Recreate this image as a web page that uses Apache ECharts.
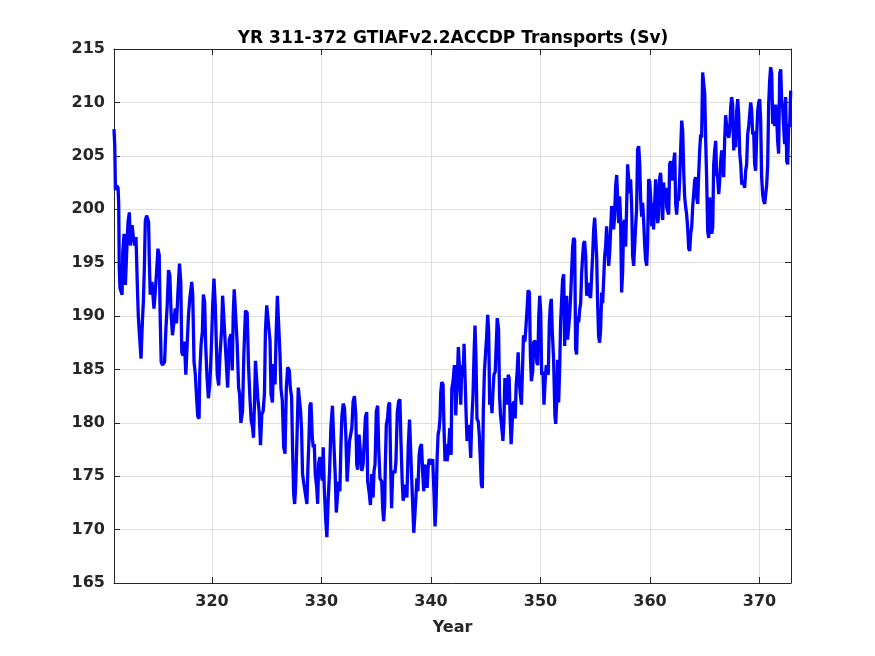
<!DOCTYPE html>
<html lang="en">
<head>
    <meta charset="UTF-8">
    <title>YR 311-372 GTIAFv2.2ACCDP Transports</title>
    <script src="https://cdn.jsdelivr.net/npm/echarts@6.0.0/dist/echarts.min.js"></script>
    <style>
        html, body {
            margin: 0;
            padding: 0;
            background: #ffffff;
        }
        #main {
            width: 875px;
            height: 656px;
        }
    </style>
</head>
<body>
<div id="main"></div>
<script type="text/javascript">
    // transport (Sv) against model year
    var samples = [
        [311.05,207.5],[311.12,205.9],[311.18,201.8],[311.3,202.2],[311.42,202.0],[311.48,200.5],[311.53,194.5],[311.6,192.6],[311.79,192.0],[311.85,196.0],
        [311.97,197.7],[312.09,192.9],[312.21,196.0],[312.33,198.8],[312.45,199.7],[312.55,196.6],[312.7,198.5],[312.82,197.4],[312.94,196.6],[313.06,197.4],
        [313.18,192.9],[313.27,190.0],[313.36,188.5],[313.52,186.0],[313.64,189.4],[313.73,191.3],[313.82,194.4],[313.91,198.9],[314.03,199.4],[314.21,198.8],
        [314.27,195.4],[314.36,192.0],[314.52,193.2],[314.7,190.7],[314.82,192.3],[314.94,194.1],[315.06,196.3],[315.18,195.7],[315.27,189.8],[315.36,185.7],
        [315.48,185.4],[315.67,185.7],[315.79,188.8],[315.91,191.0],[316.03,194.3],[316.15,193.8],[316.27,190.1],[316.39,188.2],[316.52,189.4],[316.64,190.7],
        [316.76,189.3],[316.88,192.0],[317.03,194.9],[317.15,193.2],[317.24,186.6],[317.36,186.3],[317.48,187.6],[317.61,184.5],[317.73,187.3],[317.85,190.0],
        [317.97,191.6],[318.15,193.2],[318.24,192.0],[318.36,185.7],[318.48,184.5],[318.58,182.6],[318.7,180.6],[318.82,180.4],[318.88,184.5],[319.0,187.3],
        [319.12,188.5],[319.21,192.0],[319.33,191.3],[319.42,187.3],[319.55,184.2],[319.67,182.3],[319.79,183.5],[319.88,185.4],[319.97,187.9],[320.06,191.0],
        [320.18,193.5],[320.3,191.0],[320.39,187.6],[320.48,184.5],[320.61,183.5],[320.73,186.3],[320.88,188.8],
        [320.97,191.9],[321.15,192.0],[321.43,183.3],[321.58,187.8],[321.73,188.3],[321.85,184.9],[321.94,190.2],[322.03,192.5],[322.18,192.4],[322.3,187.4],
        [322.43,183.3],[322.52,182.7],[322.64,180.0],[322.79,181.1],[322.91,186.4],[322.97,188.1],[323.06,190.5],[323.21,190.3],[323.33,185.5],[323.46,182.4],
        [323.58,180.2],[323.7,179.6],[323.79,178.6],[323.88,181.8],[323.97,185.8],[324.09,185.8],[324.18,182.4],[324.3,181.1],[324.43,177.9],[324.55,180.8],
        [324.67,181.1],[324.79,182.7],[324.88,188.6],[325.0,191.0],[325.15,191.1],[325.3,187.7],[325.39,182.7],[325.52,181.9],[325.61,185.5],[325.76,183.6],
        [325.85,188.0],[325.97,191.9],[326.12,192.0],[326.21,186.4],[326.3,183.2],[326.42,182.1],[326.55,177.7],[326.67,177.1],[326.79,183.3],[326.91,185.2],
        [327.06,184.9],[327.15,183.3],[327.27,182.4],[327.36,177.4],[327.46,173.3],[327.55,172.4],[327.64,174.0],[327.76,178.6],[327.88,183.3],[327.97,183.3],
        [328.09,181.1],[328.18,179.3],[328.27,175.2],[328.39,174.3],[328.55,174.3],[328.67,172.4],[328.76,175.8],[328.85,178.3],[328.94,181.6],[329.04,181.9],
        [329.16,178.6],[329.25,177.7],[329.34,178.0],[329.43,175.2],[329.56,174.0],[329.65,172.4],[329.74,176.2],[329.86,176.8],[329.95,175.5],[330.07,174.6],
        [330.16,177.7],[330.25,174.0],[330.37,171.2],[330.49,169.3],[330.62,173.0],[330.74,175.5],[330.86,179.6],
        [331.0,181.6],[331.1,178.8],[331.25,175.2],[331.35,171.6],[331.47,171.6],[331.56,174.5],[331.68,173.6],[331.77,177.7],[331.86,180.6],[331.98,181.8],
        [332.1,181.4],[332.22,178.9],[332.34,174.5],[332.46,174.4],[332.56,178.3],[332.68,178.3],[332.77,179.5],[332.89,182.0],[333.01,182.5],[333.13,180.8],
        [333.22,176.1],[333.31,175.6],[333.43,178.9],[333.56,178.9],[333.68,175.5],[333.8,176.1],[333.92,178.6],[334.01,180.5],[334.13,181.0],[334.22,174.5],
        [334.34,173.6],[334.47,172.3],[334.59,175.2],[334.71,173.0],[334.8,175.5],[334.89,176.1],[335.01,181.1],[335.13,181.6],[335.22,177.7],[335.34,174.8],
        [335.5,174.5],[335.59,172.0],[335.68,170.8],[335.77,172.3],[335.83,176.1],[335.92,179.8],[336.04,180.5],[336.13,181.7],[336.22,181.9],[336.31,176.4],
        [336.4,172.0],[336.5,175.2],[336.59,175.5],[336.71,175.3],[336.8,176.4],[336.92,180.9],[337.04,182.0],[337.16,182.2],[337.25,178.6],[337.37,174.5],
        [337.46,172.7],[337.59,172.7],[337.68,174.2],[337.8,173.0],[337.92,177.7],[338.04,180.3],[338.16,180.3],[338.25,174.5],[338.34,172.0],[338.43,169.7],
        [338.53,169.8],[338.62,173.0],[338.71,174.8],[338.8,173.6],[338.92,177.0],[339.01,177.7],[339.13,178.0],[339.25,175.2],[339.34,173.6],[339.43,176.1],
        [339.53,176.2],[339.65,173.9],[339.74,175.8],[339.83,176.6],[339.95,176.4],[340.04,176.1],[340.16,176.6],[340.28,173.3],[340.37,170.3],[340.46,172.2],
        [340.56,176.7],[340.65,178.9],[340.74,179.4],[340.83,180.5],[340.89,182.8],[340.98,183.8],[341.1,183.6],[341.19,179.5],[341.28,176.4],
        [341.35,178.0],[341.47,176.4],[341.6,177.6],[341.72,179.5],[341.84,177.0],[341.9,183.2],[342.02,183.9],[342.14,185.4],[342.26,180.7],[342.38,183.5],
        [342.5,187.1],[342.59,185.4],[342.72,181.7],[342.81,185.4],[342.93,184.2],[343.02,187.4],[343.11,187.3],[343.2,181.1],[343.29,178.3],[343.42,179.8],
        [343.54,178.6],[343.63,176.7],[343.72,180.1],[343.84,182.6],[343.93,186.3],[344.02,189.1],[344.11,186.0],[344.2,180.4],[344.32,180.1],[344.41,178.9],
        [344.51,176.4],[344.6,174.2],[344.69,173.9],[344.78,181.1],[344.88,184.8],[345.0,184.8],[345.09,188.2],[345.18,190.1],[345.27,188.5],[345.36,181.7],
        [345.48,182.6],[345.57,180.9],[345.66,182.9],[345.75,184.5],[345.87,184.8],[345.96,184.8],[346.05,189.8],[346.17,188.8],[346.26,182.6],[346.35,180.7],
        [346.47,179.5],[346.57,178.3],[346.66,180.1],[346.75,184.2],[346.87,183.5],[346.96,181.7],[347.05,184.5],[347.14,184.2],[347.23,180.4],[347.32,178.0],
        [347.41,179.8],[347.5,181.8],[347.6,182.0],[347.69,180.4],[347.78,183.5],[347.87,184.8],[347.96,186.6],[348.05,183.9],[348.14,182.9],[348.26,181.7],
        [348.35,184.8],[348.45,188.2],[348.57,187.6],[348.66,188.8],[348.78,190.7],[348.87,192.4],[348.99,192.2],[349.08,186.3],[349.17,183.9],[349.29,184.8],
        [349.38,187.6],[349.47,187.6],[349.57,187.6],[349.66,185.7],[349.75,185.4],[349.84,189.8],[349.93,191.9],[350.02,190.4],[350.11,184.5],[350.23,184.8],
        [350.32,181.7],[350.44,184.2],[350.53,185.4],[350.62,184.8],[350.71,184.5],[350.81,189.4],[350.9,191.0],[350.99,191.6],[351.08,188.5],[351.2,185.9],
        [351.32,180.6],[351.39,179.9],[351.48,181.9],[351.57,185.9],[351.66,181.9],[351.75,185.0],[351.84,189.4],[351.93,191.5],[352.02,193.4],[352.12,193.9],
        [352.21,187.2],[352.3,190.0],[352.39,191.9],[352.48,187.8],[352.57,187.8],[352.66,190.0],[352.76,191.9],[352.85,194.3],[352.94,196.5],[353.03,197.3],
        [353.12,197.1],[353.21,186.9],[353.3,186.4],[353.39,190.0],[353.49,189.4],[353.58,190.6],[353.67,191.2],[353.76,194.0],[353.85,195.6],[353.94,196.8],
        [354.03,197.0],[354.13,195.6],[354.22,191.9],[354.31,192.5],[354.4,193.1],[354.49,191.9],[354.58,191.7],[354.67,193.7],[354.76,195.6],[354.86,198.1],
        [354.95,199.2],[355.04,199.3],[355.13,195.6],[355.22,191.2],[355.31,188.1],[355.4,187.5],[355.49,188.7],[355.59,192.2],[355.68,191.2],[355.77,193.4],
        [355.86,195.6],[355.95,196.5],[356.04,198.4],[356.13,196.5],[356.23,194.7],[356.32,195.9],[356.41,198.1],[356.5,200.3],[356.59,199.6],[356.68,198.1],
        [356.77,199.3],[356.86,202.1],[356.96,203.2],[357.05,203.1],[357.14,198.7],[357.23,201.2],[357.32,199.0],[357.41,192.2],[357.5,194.0],[357.6,198.7],
        [357.69,199.0],[357.78,196.5],[357.87,200.3],[357.96,204.2],[358.05,204.3],[358.14,201.5],[358.23,202.8],[358.33,200.3],[358.42,195.6],[358.51,194.7],
        [358.6,196.5],[358.69,198.4],[358.78,200.0],[358.87,205.6],[358.97,205.9],[359.06,204.3],[359.15,200.9],[359.24,199.3],[359.33,200.6],[359.42,199.0],
        [359.51,196.8],[359.6,195.3],[359.7,194.7],[359.79,197.1],[359.88,202.8],[359.97,202.6],[360.06,201.2],[360.15,198.4],[360.24,200.6],[360.33,198.1],
        [360.43,200.6],[360.52,202.8],[360.61,201.2],[360.7,198.7],[360.79,199.3],[360.88,202.9],[360.97,203.4],[361.07,201.8],[361.16,199.0],[361.25,202.5],
        [361.34,201.0],[361.44,202.0],[361.53,200.2],[361.62,199.8],[361.71,199.5],[361.8,204.2],[361.89,204.5],[361.98,202.7],[362.07,203.0],[362.17,204.5],
        [362.26,205.3],[362.35,200.5],[362.44,199.5],[362.53,201.1],[362.62,200.8],[362.71,202.7],[362.81,205.8],[362.9,208.3],[362.99,207.3],[363.08,203.6],
        [363.17,201.1],[363.26,200.2],[363.35,199.5],[363.44,198.3],[363.54,196.3],[363.63,196.1],[363.72,197.7],[363.81,198.3],[363.9,200.2],[363.99,201.4],
        [364.08,202.7],[364.18,203.0],[364.27,201.1],[364.36,200.5],[364.45,203.3],[364.54,205.5],[364.63,207.0],[364.72,206.7],[364.81,212.8],[364.91,212.7],
        [365.0,210.8],[365.09,206.4],[365.18,202.7],[365.27,198.0],[365.36,197.3],[365.45,201.1],[365.54,199.5],[365.64,197.7],[365.73,198.3],[365.82,204.2],
        [365.91,205.5],[366.0,206.4],[366.09,203.3],[366.18,203.0],[366.28,201.4],[366.37,202.7],[366.46,204.5],[366.55,205.5],[366.64,204.5],[366.73,203.0],
        [366.82,206.4],[366.91,208.8],[367.01,207.7],[367.1,207.8],[367.19,206.7],[367.28,207.3],[367.37,209.5],[367.46,210.5],[367.55,209.8],[367.65,205.5],
        [367.74,207.0],[367.83,205.8],[367.92,209.2],[368.01,210.3],[368.1,208.9],[368.2,205.2],[368.29,204.2],[368.38,202.3],[368.47,202.7],[368.56,202.7],
        [368.65,202.0],[368.74,203.6],[368.83,204.2],[368.92,207.0],[369.02,207.8],[369.11,207.7],[369.2,210.0],[369.29,209.2],[369.38,207.0],[369.47,207.3],
        [369.56,204.2],[369.65,203.6],[369.75,207.0],[369.84,209.2],[369.93,210.0],[370.02,210.3],[370.11,208.3],[370.2,203.0],[370.29,201.4],[370.38,200.8],
        [370.48,200.5],[370.57,201.4],[370.66,202.3],[370.75,204.2],[370.84,209.8],[370.93,212.0],[371.02,213.3],[371.12,212.7],[371.21,208.0],[371.3,208.3],
        [371.39,207.8],[371.48,209.8],[371.57,208.6],[371.66,206.4],[371.75,205.2],[371.85,212.7],[371.94,213.1],[372.03,210.2],[372.12,209.5],[372.21,207.7],
        [372.3,206.1],[372.39,210.5],[372.49,204.5],[372.58,204.2],[372.67,208.0],[372.76,207.7],[372.85,211.1]
    ];

    var yearRange = [311.05, 372.88];
    var transportRange = [165, 215];
    var transportStep = 5;
    var titleText = 'YR 311-372 GTIAFv2.2ACCDP Transports (Sv)';
    var xName = 'Year';

    var ink = '#262626';
    var font = 'DejaVu Sans';

    var myChart = echarts.init(document.getElementById('main'), null, {renderer: 'canvas'});

    var option = {
        animation: false,
        backgroundColor: '#ffffff',
        title: {
            text: titleText,
            left: 448,
            top: 25,
            textAlign: 'center',
            textStyle: {
                color: '#000000',
                fontFamily: font,
                fontWeight: 'bold',
                fontSize: 17
            }
        },
        grid: {
            left: 114,
            right: 84,
            top: 49,
            bottom: 73,
            containLabel: false
        },
        xAxis: [
            {
                type: 'value',
                min: yearRange[0],
                max: yearRange[1],
                splitNumber: 5,
                name: xName,
                nameLocation: 'middle',
                nameGap: 37,
                nameTextStyle: {
                    color: ink,
                    fontFamily: font,
                    fontWeight: 'bold',
                    fontSize: 16
                },
                axisLine: {onZero: false, lineStyle: {color: ink, width: 1}},
                axisTick: {inside: true, length: 6, lineStyle: {color: ink}},
                axisLabel: {
                    showMinLabel: false,
                    showMaxLabel: false,
                    margin: 11,
                    color: ink,
                    fontFamily: font,
                    fontWeight: 'bold',
                    fontSize: 16
                },
                splitLine: {show: true, lineStyle: {color: '#dfdfdf', width: 1}}
            },
            {
                type: 'value',
                position: 'top',
                min: yearRange[0],
                max: yearRange[1],
                splitNumber: 5,
                axisLine: {onZero: false, lineStyle: {color: ink, width: 1}},
                axisTick: {inside: true, length: 6, lineStyle: {color: ink}},
                axisLabel: {show: false},
                splitLine: {show: false}
            }
        ],
        yAxis: [
            {
                type: 'value',
                min: transportRange[0],
                max: transportRange[1],
                interval: transportStep,
                axisLine: {show: true, onZero: false, lineStyle: {color: ink, width: 1}},
                axisTick: {show: true, inside: true, length: 6, lineStyle: {color: ink}},
                axisLabel: {
                    margin: 9,
                    color: ink,
                    fontFamily: font,
                    fontWeight: 'bold',
                    fontSize: 16
                },
                splitLine: {show: true, lineStyle: {color: '#dfdfdf', width: 1}}
            },
            {
                type: 'value',
                position: 'right',
                min: transportRange[0],
                max: transportRange[1],
                interval: transportStep,
                axisLine: {show: true, onZero: false, lineStyle: {color: ink, width: 1}},
                axisTick: {show: true, inside: true, length: 6, lineStyle: {color: ink}},
                axisLabel: {show: false},
                splitLine: {show: false}
            }
        ],
        series: [
            {
                type: 'line',
                xAxisIndex: 0,
                yAxisIndex: 0,
                data: samples,
                showSymbol: false,
                symbol: 'none',
                lineStyle: {color: '#0000ff', width: 3.3, join: 'bevel'},
                z: 3
            }
        ]
    };

    myChart.setOption(option);
</script>
</body>
</html>
